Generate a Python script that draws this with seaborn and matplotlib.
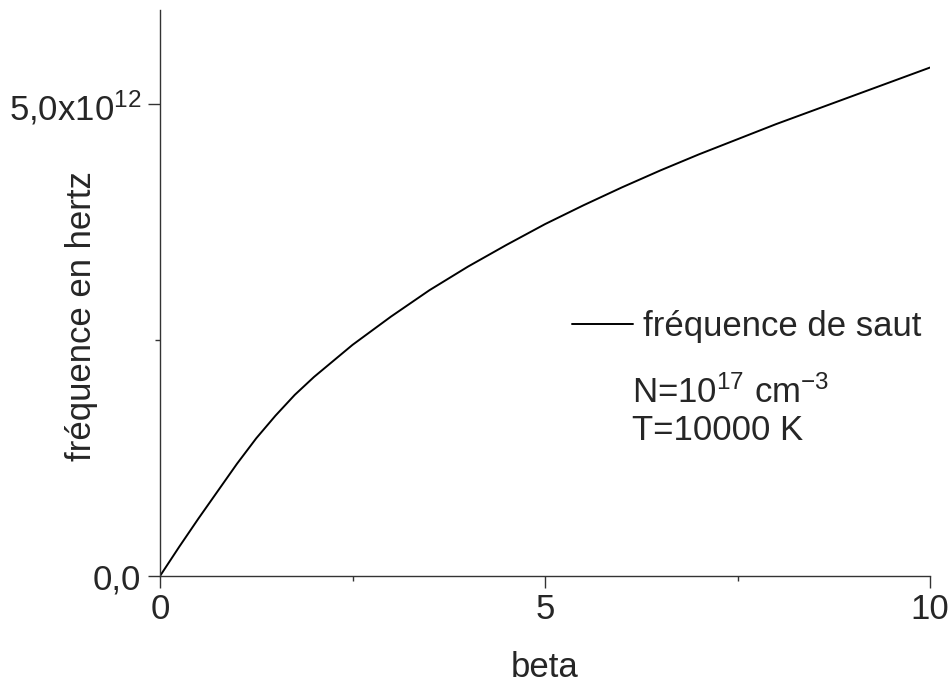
import numpy as np
import pandas as pd
import matplotlib
matplotlib.use("Agg")
import matplotlib.pyplot as plt
from matplotlib.ticker import FixedLocator, FuncFormatter
import seaborn as sns

# Hopping frequency versus beta (frequency in units of 1e12 Hz)
beta = [0, 0.25, 0.5, 0.75, 1.0, 1.25, 1.5, 1.75, 2.0, 2.25, 2.5, 2.75, 3.0,
        3.5, 4.0, 4.5, 5.0, 5.5, 6.0, 6.5, 7.0, 7.5, 8.0, 8.5, 9.0, 9.5, 10.0]
freq_e12 = [0, 0.31, 0.61, 0.90, 1.19, 1.46, 1.70, 1.92, 2.11, 2.28, 2.45,
            2.60, 2.75, 3.03, 3.28, 3.51, 3.73, 3.93, 4.12, 4.30, 4.47, 4.63,
            4.79, 4.94, 5.09, 5.24, 5.39]
series_label = "fréquence de saut"
x_ticks = [0, 5, 10]
y_ticks = [0.0, 5.0e12]

df = pd.DataFrame({"beta": beta, "freq": np.array(freq_e12) * 1e12})

sns.set_theme(style="ticks")
plt.rcParams["font.family"] = ["Liberation Sans", "DejaVu Sans"]
plt.rcParams["mathtext.fontset"] = "custom"
plt.rcParams["mathtext.rm"] = "Liberation Sans"
plt.rcParams["mathtext.it"] = "Liberation Sans"
plt.rcParams["mathtext.default"] = "regular"

fig = plt.figure(figsize=(9.52, 6.86), dpi=100)
ax = fig.add_axes([160 / 952, 1 - 576 / 686, 770 / 952, 566 / 686])

sns.lineplot(data=df, x="beta", y="freq", ax=ax, color="black",
             linewidth=1.4, label=series_label)
for ln in ax.get_lines():
    ln.set_solid_joinstyle("round")

ax.set_xlim(0, 10)
ax.set_ylim(0, 6.0e12)
ax.xaxis.set_major_locator(FixedLocator(x_ticks))
ax.xaxis.set_minor_locator(FixedLocator([2.5, 7.5]))
ax.yaxis.set_major_locator(FixedLocator(y_ticks))
ax.yaxis.set_minor_locator(FixedLocator([2.5e12]))


def y_fmt(v, pos):
    if v == 0:
        return "0,0"
    exp = int(np.floor(np.log10(abs(v))))
    mant = v / 10 ** exp
    return f"{mant:.1f}".replace(".", ",") + "x10$^{" + str(exp) + "}$"


ax.yaxis.set_major_formatter(FuncFormatter(y_fmt))

for side in ("top", "right"):
    ax.spines[side].set_visible(False)
for side in ("left", "bottom"):
    ax.spines[side].set_color("#333333")
    ax.spines[side].set_linewidth(1.0)

ax.tick_params(which="major", length=8.5, width=1.0, color="#333333",
               labelsize=25, pad=4)
ax.tick_params(which="minor", length=3.5, width=1.0, color="#333333")
ax.tick_params(axis="y", which="major", pad=5)

ax.set_xlabel("beta", fontsize=25, labelpad=18)
ax.set_ylabel("fréquence en hertz", fontsize=25)
ax.yaxis.set_label_coords(-0.08, 0.46)

leg = ax.legend(loc="center left", bbox_to_anchor=(0.535, 0.44),
                frameon=False, fontsize=25, handlelength=1.77,
                handletextpad=0.29, borderpad=0, borderaxespad=0)

ax.text(0.613, 0.306, "N=10$^{17}$ cm$^{-3}$", transform=ax.transAxes,
        fontsize=25, ha="left", va="baseline")
ax.text(0.613, 0.240, "T=10000 K", transform=ax.transAxes,
        fontsize=25, ha="left", va="baseline")

fig.savefig("out.png", dpi=100, facecolor="white")
